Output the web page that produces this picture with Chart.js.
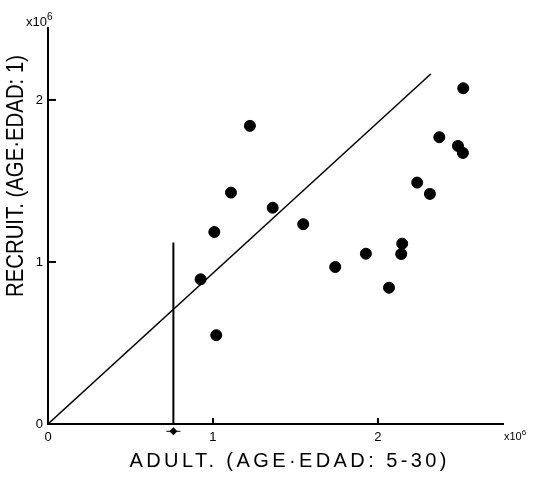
<!DOCTYPE html>
<html>
<head>
    <title>Recruit vs Adult</title>
    <script src="https://cdn.jsdelivr.net/npm/chart.js@4.4.0/dist/chart.umd.min.js"></script>
    <style>
        body { margin: 0; background: #fff; }
    </style>
</head>
<body>
    <canvas id="grafico" width="539" height="478"></canvas>
    <script>
        // datos (x10^6)
        const adultos = [1.224, 1.109, 1.362, 1.547, 1.008, 0.925, 1.020, 1.741, 1.927, 2.067, 2.147, 2.141, 2.238, 2.315, 2.372, 2.517, 2.485, 2.515];
        const reclutas = [1.840, 1.428, 1.335, 1.233, 1.185, 0.893, 0.548, 0.969, 1.051, 0.841, 1.113, 1.049, 1.490, 1.420, 1.770, 2.072, 1.716, 1.673];

        // recta de reemplazo
        const rectaX = [0, 2.32];
        const rectaY = [0, 2.16];

        // linea vertical y marca en el eje
        const verticalX = [0.76, 0.76];
        const verticalY = [0, 1.12];
        const marcaX = [0.76];
        const marcaY = [-0.045];

        const ticksValores = [0, 1, 2];
        const tituloX = 'ADULT. (AGE·EDAD: 5-30)';
        const tituloY = 'RECRUIT. (AGE·EDAD: 1)';

        const par = (xs, ys) => xs.map((x, i) => ({ x: x, y: ys[i] }));

        // dibuja texto ajustado a un ancho
        function textoAjustado(ctx, txt, cx, cy, ancho, fuente, rot) {
            ctx.save();
            ctx.font = fuente;
            ctx.fillStyle = '#000';
            ctx.textAlign = 'center';
            ctx.textBaseline = 'middle';
            ctx.translate(cx, cy);
            if (rot) ctx.rotate(-Math.PI / 2);
            const w = ctx.measureText(txt).width;
            if (w < ancho) {
                ctx.letterSpacing = ((ancho - w) / (txt.length - 1)) + 'px';
                ctx.textAlign = 'left';
                ctx.fillText(txt, -ancho / 2, 0);
            } else {
                ctx.scale(ancho / w, 1);
                ctx.fillText(txt, 0, 0);
            }
            ctx.restore();
        }

        function x10(ctx, x, y, tam) {
            ctx.save();
            ctx.fillStyle = '#000';
            ctx.textBaseline = 'alphabetic';
            ctx.textAlign = 'left';
            ctx.font = tam + 'px "Liberation Sans"';
            ctx.fillText('x10', x, y);
            const w = ctx.measureText('x10').width;
            ctx.font = Math.round(tam * 0.75) + 'px "Liberation Sans"';
            ctx.fillText('6', x + w, y - tam * 0.45);
            ctx.restore();
        }

        const extras = {
            id: 'extras',
            afterDraw(chart) {
                const ctx = chart.ctx;
                const sx = chart.scales.x, sy = chart.scales.y;
                const area = chart.chartArea;
                ctx.save();
                ctx.strokeStyle = '#000';
                ctx.fillStyle = '#000';
                ctx.lineWidth = 2;
                ticksValores.slice(1).forEach(v => {
                    const py = sy.getPixelForValue(v);
                    ctx.beginPath();
                    ctx.moveTo(area.left, py);
                    ctx.lineTo(area.left + 8, py);
                    ctx.stroke();
                    const px = sx.getPixelForValue(v);
                    ctx.beginPath();
                    ctx.moveTo(px, area.bottom);
                    ctx.lineTo(px, area.bottom - 6);
                    ctx.stroke();
                });
                // marca bajo el eje x (fuera del area, el punto no se dibuja)
                marcaX.forEach((mx, i) => {
                    const px = sx.getPixelForValue(mx);
                    const py = sy.getPixelForValue(marcaY[i]);
                    ctx.beginPath();
                    ctx.moveTo(px, py - 4);
                    ctx.lineTo(px + 4, py);
                    ctx.lineTo(px, py + 4);
                    ctx.lineTo(px - 4, py);
                    ctx.closePath();
                    ctx.fill();
                    ctx.lineWidth = 1;
                    ctx.beginPath();
                    ctx.moveTo(px - 7, py);
                    ctx.lineTo(px + 7, py);
                    ctx.stroke();
                });
                ctx.restore();

                textoAjustado(ctx, tituloX, 288, 461, 317, '20px "Liberation Sans"', false);
                textoAjustado(ctx, tituloY, 16, 176, 242, '24px "Liberation Sans"', true);
                x10(ctx, 26, 26, 13);
                x10(ctx, 504, 440, 11);
            }
        };

        const ctx = document.getElementById('grafico').getContext('2d');
        new Chart(ctx, {
            type: 'scatter',
            data: {
                datasets: [{
                    label: 'puntos',
                    data: par(adultos, reclutas),
                    backgroundColor: '#000',
                    borderColor: '#000',
                    pointRadius: 5.5,
                    pointHoverRadius: 5.5
                }, {
                    label: 'recta',
                    data: par(rectaX, rectaY),
                    showLine: true,
                    borderColor: '#000',
                    borderWidth: 1.5,
                    pointRadius: 0
                }, {
                    label: 'vertical',
                    data: par(verticalX, verticalY),
                    showLine: true,
                    borderColor: '#000',
                    borderWidth: 2,
                    pointRadius: 0
                }]
            },
            options: {
                responsive: false,
                animation: false,
                layout: { padding: { top: 28, right: 36, bottom: 0, left: 0 } },
                plugins: {
                    legend: { display: false },
                    tooltip: { enabled: false }
                },
                scales: {
                    x: {
                        type: 'linear',
                        min: 0,
                        max: 2.758,
                        afterBuildTicks: s => { s.ticks = ticksValores.map(v => ({ value: v })); },
                        afterFit: s => { s.height = 54; },
                        grid: { display: false, drawTicks: false },
                        border: { display: true, width: 2, color: '#000' },
                        ticks: {
                            padding: 6,
                            color: '#000',
                            font: { family: 'Liberation Sans', size: 13 }
                        }
                    },
                    y: {
                        type: 'linear',
                        min: 0,
                        max: 2.444,
                        afterBuildTicks: s => { s.ticks = ticksValores.map(v => ({ value: v })); },
                        afterFit: s => { s.width = 48; },
                        grid: { display: false, drawTicks: false },
                        border: { display: true, width: 2, color: '#000' },
                        ticks: {
                            padding: 5,
                            color: '#000',
                            font: { family: 'Liberation Sans', size: 13 }
                        }
                    }
                }
            },
            plugins: [extras]
        });
    </script>
</body>
</html>
